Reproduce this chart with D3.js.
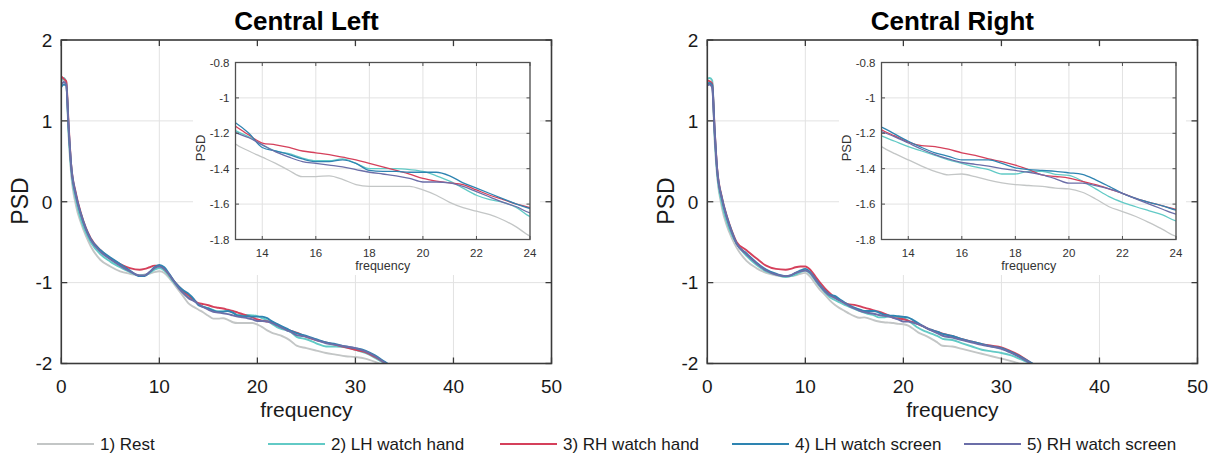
<!DOCTYPE html>
<html>
<head>
<meta charset="utf-8">
<script src="https://cdn.jsdelivr.net/npm/d3@7"></script>
<style>
  html, body { margin: 0; padding: 0; background: #fff; }
  svg { display: block; font-family: "Liberation Sans", Arial, sans-serif; }
</style>
</head>
<body>
<svg id="chart" width="1222" height="459"></svg>
<script>
// Frequency samples (Hz) shared by every series
const freq = [0, 0.25, 0.5, 0.75, 1, 1.5, 2, 2.5, 3, 4, 5, 6, 7, 8,
  8.5, 9, 9.5, 10, 10.5, 11, 11.5, 12, 12.5,
  13, 13.5, 14, 14.5, 15, 15.5, 16, 16.5, 17, 17.5, 18, 18.5, 19, 19.5, 20,
  20.5, 21, 21.5, 22, 22.5, 23, 23.5, 24,
  25, 26, 27, 28, 29, 30, 31, 32, 33, 34];

const conditions = ["1) Rest", "2) LH watch hand", "3) RH watch hand", "4) LH watch screen", "5) RH watch screen"];
const colors = ["#c3c6c6", "#62cac6", "#d5405b", "#2e84b1", "#6b6ea8"];

// Central Left PSD per condition
const leftRest = [1.52, 1.50, 1.46, 0.80, 0.35, -0.05, -0.26, -0.42, -0.55,
  -0.72, -0.80, -0.86, -0.89, -0.91,
  -0.90, -0.89, -0.87, -0.86, -0.88, -0.94, -1.02, -1.10, -1.18,
  -1.26, -1.30, -1.335, -1.37, -1.41, -1.445, -1.445, -1.44, -1.46, -1.49, -1.50, -1.50, -1.50, -1.50, -1.52,
  -1.55, -1.59, -1.62, -1.64, -1.66, -1.69, -1.73, -1.78,
  -1.81, -1.84, -1.87, -1.89, -1.91, -1.92, -1.94, -1.98, -2.03, -2.08];
const leftLHHand = [1.50, 1.53, 1.48, 0.85, 0.40, 0.02, -0.22, -0.38, -0.50,
  -0.65, -0.74, -0.81, -0.87, -0.91,
  -0.91, -0.88, -0.84, -0.82, -0.85, -0.92, -1.00, -1.07, -1.13,
  -1.185, -1.22, -1.265, -1.30, -1.315, -1.34, -1.355, -1.355, -1.345, -1.37, -1.40, -1.40, -1.40, -1.405, -1.415,
  -1.44, -1.47, -1.51, -1.55, -1.575, -1.59, -1.62, -1.67,
  -1.70, -1.75, -1.79, -1.79, -1.80, -1.83, -1.87, -1.93, -2.00, -2.07];
const leftRHHand = [1.55, 1.52, 1.49, 0.95, 0.47, 0.10, -0.14, -0.32, -0.45,
  -0.60, -0.70, -0.77, -0.82, -0.84,
  -0.83, -0.81, -0.79, -0.79, -0.83, -0.90, -0.98, -1.05, -1.11,
  -1.16, -1.21, -1.255, -1.265, -1.28, -1.30, -1.31, -1.32, -1.335, -1.35, -1.37, -1.39, -1.41, -1.43, -1.455,
  -1.47, -1.48, -1.49, -1.52, -1.55, -1.575, -1.60, -1.62,
  -1.67, -1.71, -1.74, -1.77, -1.80, -1.83, -1.86, -1.92, -1.99, -2.06];
const leftLHScreen = [1.42, 1.45, 1.44, 0.90, 0.46, 0.08, -0.15, -0.33, -0.46,
  -0.60, -0.69, -0.77, -0.85, -0.92,
  -0.92, -0.87, -0.81, -0.78, -0.81, -0.89, -0.98, -1.05, -1.10,
  -1.14, -1.20, -1.28, -1.30, -1.32, -1.345, -1.36, -1.36, -1.35, -1.37, -1.41, -1.415, -1.415, -1.42, -1.42,
  -1.42, -1.44, -1.48, -1.51, -1.54, -1.57, -1.60, -1.625,
  -1.66, -1.70, -1.74, -1.76, -1.79, -1.81, -1.84, -1.90, -1.98, -2.06];
const leftRHScreen = [1.45, 1.48, 1.45, 0.92, 0.45, 0.07, -0.16, -0.34, -0.47,
  -0.62, -0.71, -0.79, -0.86, -0.91,
  -0.91, -0.87, -0.82, -0.80, -0.83, -0.90, -0.99, -1.07, -1.14,
  -1.195, -1.225, -1.265, -1.305, -1.335, -1.36, -1.37, -1.38, -1.39, -1.405, -1.42, -1.43, -1.44, -1.455, -1.475,
  -1.475, -1.48, -1.50, -1.53, -1.56, -1.59, -1.615, -1.65,
  -1.67, -1.71, -1.75, -1.77, -1.79, -1.81, -1.85, -1.91, -1.99, -2.06];

// Central Right PSD per condition
const rightRest = [1.48, 1.46, 1.42, 0.75, 0.32, -0.08, -0.30, -0.45, -0.57,
  -0.73, -0.82, -0.88, -0.91, -0.93,
  -0.92, -0.91, -0.89, -0.88, -0.93, -1.01, -1.09, -1.15, -1.22,
  -1.275, -1.315, -1.35, -1.385, -1.415, -1.435, -1.43, -1.445, -1.465, -1.48, -1.49, -1.495, -1.50, -1.51, -1.514,
  -1.533, -1.571, -1.615, -1.642, -1.67, -1.705, -1.743, -1.781,
  -1.79, -1.82, -1.85, -1.88, -1.91, -1.94, -1.97, -2.01, -2.05, -2.09];
const rightLHHand = [1.52, 1.53, 1.50, 0.82, 0.36, -0.03, -0.25, -0.41, -0.52,
  -0.67, -0.78, -0.86, -0.90, -0.93,
  -0.92, -0.90, -0.87, -0.85, -0.89, -0.97, -1.05, -1.12, -1.18,
  -1.215, -1.245, -1.275, -1.30, -1.325, -1.35, -1.37, -1.39, -1.405, -1.43, -1.43, -1.415, -1.415, -1.432, -1.438,
  -1.47, -1.514, -1.558, -1.59, -1.615, -1.638, -1.661, -1.695,
  -1.71, -1.75, -1.79, -1.83, -1.85, -1.87, -1.90, -1.95, -2.00, -2.06];
const rightRHHand = [1.50, 1.49, 1.46, 0.90, 0.42, 0.05, -0.18, -0.36, -0.50,
  -0.60, -0.70, -0.79, -0.83, -0.84,
  -0.83, -0.81, -0.80, -0.80, -0.84, -0.92, -1.00, -1.07, -1.13,
  -1.18, -1.215, -1.25, -1.27, -1.275, -1.29, -1.31, -1.325, -1.345, -1.36, -1.38, -1.405, -1.435, -1.444, -1.453,
  -1.472, -1.49, -1.514, -1.539, -1.568, -1.59, -1.61, -1.63,
  -1.66, -1.70, -1.73, -1.76, -1.78, -1.80, -1.85, -1.91, -1.99, -2.06];
const rightLHScreen = [1.46, 1.47, 1.44, 0.88, 0.40, 0.04, -0.19, -0.37, -0.52,
  -0.64, -0.75, -0.84, -0.89, -0.92,
  -0.91, -0.88, -0.85, -0.83, -0.87, -0.95, -1.03, -1.10, -1.15,
  -1.165, -1.205, -1.245, -1.28, -1.31, -1.33, -1.35, -1.35, -1.35, -1.37, -1.395, -1.405, -1.41, -1.415, -1.423,
  -1.432, -1.463, -1.50, -1.539, -1.568, -1.59, -1.61, -1.634,
  -1.66, -1.70, -1.73, -1.76, -1.79, -1.81, -1.86, -1.92, -1.99, -2.06];
const rightRHScreen = [1.44, 1.45, 1.41, 0.86, 0.40, 0.03, -0.20, -0.38, -0.52,
  -0.65, -0.76, -0.85, -0.90, -0.92,
  -0.91, -0.88, -0.86, -0.85, -0.88, -0.96, -1.04, -1.11, -1.16,
  -1.19, -1.22, -1.255, -1.29, -1.32, -1.345, -1.365, -1.375, -1.385, -1.40, -1.41, -1.42, -1.435, -1.457, -1.482,
  -1.482, -1.495, -1.514, -1.539, -1.571, -1.60, -1.629, -1.657,
  -1.68, -1.71, -1.74, -1.77, -1.79, -1.82, -1.87, -1.93, -2.00, -2.06];

const mainXTicks = [0, 10, 20, 30, 40, 50];
const mainYTicks = [-2, -1, 0, 1, 2];
const insetXTicks = [14, 16, 18, 20, 22, 24];
const insetYTicks = [-1.8, -1.6, -1.4, -1.2, -1, -0.8];

const panels = [
  { title: "Central Left", series: [leftRest, leftLHHand, leftRHHand, leftLHScreen, leftRHScreen], dx: 0 },
  { title: "Central Right", series: [rightRest, rightLHHand, rightRHHand, rightLHScreen, rightRHScreen], dx: 646 }
];

const svg = d3.select("#chart");
const AXIS = "#3a3a3a";
const GRID = "#e2e2e2";

// light grid lines at every tick
function drawGrid(g, x, y, xt, yt) {
  const [xa, xb] = x.range();
  const [ya, yb] = y.range();
  const grid = g.append("g");
  grid.selectAll("line.gx").data(xt).join("line")
    .attr("x1", d => x(d)).attr("x2", d => x(d)).attr("y1", ya).attr("y2", yb)
    .attr("stroke", GRID).attr("stroke-width", 1);
  grid.selectAll("line.gy").data(yt).join("line")
    .attr("x1", xa).attr("x2", xb).attr("y1", d => y(d)).attr("y2", d => y(d))
    .attr("stroke", GRID).attr("stroke-width", 1);
}

// boxed frame with inward ticks on all four sides, plus tick labels
function drawFrame(g, x, y, xt, yt, opt) {
  const [xa, xb] = x.range();
  const [ya, yb] = y.range();
  const fr = g.append("g");
  const tl = opt.tick;
  fr.selectAll("line.tb").data(xt).join("line")
    .attr("x1", d => x(d)).attr("x2", d => x(d)).attr("y1", ya).attr("y2", ya - tl)
    .attr("stroke", opt.color).attr("stroke-width", opt.sw);
  fr.selectAll("line.tt").data(xt).join("line")
    .attr("x1", d => x(d)).attr("x2", d => x(d)).attr("y1", yb).attr("y2", yb + tl)
    .attr("stroke", opt.color).attr("stroke-width", opt.sw);
  fr.selectAll("line.tl").data(yt).join("line")
    .attr("x1", xa).attr("x2", xa + tl).attr("y1", d => y(d)).attr("y2", d => y(d))
    .attr("stroke", opt.color).attr("stroke-width", opt.sw);
  fr.selectAll("line.tr").data(yt).join("line")
    .attr("x1", xb).attr("x2", xb - tl).attr("y1", d => y(d)).attr("y2", d => y(d))
    .attr("stroke", opt.color).attr("stroke-width", opt.sw);
  fr.append("rect").attr("x", xa).attr("y", yb).attr("width", xb - xa).attr("height", ya - yb)
    .attr("fill", "none").attr("stroke", opt.color).attr("stroke-width", opt.frameW);
  fr.selectAll("text.xl").data(xt).join("text")
    .attr("x", d => x(d)).attr("y", ya + opt.xlab)
    .attr("text-anchor", "middle").attr("font-size", opt.fs).attr("fill", opt.textColor)
    .text(d => d);
  fr.selectAll("text.yl").data(yt).join("text")
    .attr("x", xa - opt.ylab).attr("y", d => y(d)).attr("dy", "0.36em")
    .attr("text-anchor", "end").attr("font-size", opt.fs).attr("fill", opt.textColor)
    .text(d => d);
}

function drawLines(g, x, y, series, clipId, sw) {
  const line = d3.line()
    .x((d, i) => x(freq[i]))
    .y(d => y(d))
    .curve(d3.curveMonotoneX);
  const lg = g.append("g").attr("clip-path", `url(#${clipId})`);
  series.forEach((s, k) => {
    lg.append("path").datum(s).attr("d", line)
      .attr("fill", "none").attr("stroke", colors[k]).attr("stroke-width", sw)
      .attr("stroke-linejoin", "round");
  });
}

const defs = svg.append("defs");

panels.forEach((p, pi) => {
  const g = svg.append("g").attr("transform", `translate(${p.dx},0)`);

  // main axes
  const x = d3.scaleLinear().domain([0, 50]).range([61.3, 551.5]);
  const y = d3.scaleLinear().domain([-2, 2]).range([363.5, 40]);
  const clipMain = `clipMain${pi}`;
  defs.append("clipPath").attr("id", clipMain).append("rect")
    .attr("x", 61.3).attr("y", 40).attr("width", 551.5 - 61.3).attr("height", 323.5);

  drawGrid(g, x, y, mainXTicks, mainYTicks);
  drawLines(g, x, y, p.series, clipMain, 1.9);
  drawFrame(g, x, y, mainXTicks, mainYTicks,
    { tick: 6, color: AXIS, sw: 1.3, frameW: 1.6, fs: 19, xlab: 29, ylab: 9, textColor: "#1a1a1a" });

  g.append("text").attr("x", (61.3 + 551.5) / 2).attr("y", 30)
    .attr("text-anchor", "middle").attr("font-size", 26).attr("font-weight", "bold")
    .attr("fill", "#000").text(p.title);
  g.append("text").attr("x", (61.3 + 551.5) / 2).attr("y", 417)
    .attr("text-anchor", "middle").attr("font-size", 21).attr("fill", "#1a1a1a").text("frequency");
  g.append("text").attr("transform", "translate(28,201) rotate(-90)")
    .attr("text-anchor", "middle").attr("font-size", 23).attr("fill", "#1a1a1a").text("PSD");

  // inset zoom on 13–24 Hz
  g.append("rect").attr("x", 193).attr("y", 47).attr("width", 347).attr("height", 228).attr("fill", "#fff");
  const xi = d3.scaleLinear().domain([13, 24]).range([235.5, 530]);
  const yi = d3.scaleLinear().domain([-1.8, -0.8]).range([239.5, 62.5]);
  const clipIn = `clipInset${pi}`;
  defs.append("clipPath").attr("id", clipIn).append("rect")
    .attr("x", 235.5).attr("y", 62.5).attr("width", 530 - 235.5).attr("height", 177);
  drawGrid(g, xi, yi, insetXTicks, insetYTicks);
  drawLines(g, xi, yi, p.series, clipIn, 1.3);
  drawFrame(g, xi, yi, insetXTicks, insetYTicks,
    { tick: 3.5, color: "#505050", sw: 1, frameW: 1.3, fs: 11.5, xlab: 17, ylab: 6, textColor: "#333" });
  g.append("text").attr("x", (235.5 + 530) / 2).attr("y", 270)
    .attr("text-anchor", "middle").attr("font-size", 12.5).attr("fill", "#333").text("frequency");
  g.append("text").attr("transform", "translate(205,148) rotate(-90)")
    .attr("text-anchor", "middle").attr("font-size", 13).attr("fill", "#333").text("PSD");
});

// legend
const legX = [37, 268, 500, 732, 964];
const leg = svg.append("g");
conditions.forEach((c, k) => {
  leg.append("line").attr("x1", legX[k]).attr("x2", legX[k] + 57).attr("y1", 444).attr("y2", 444)
    .attr("stroke", colors[k]).attr("stroke-width", 2);
  leg.append("text").attr("x", legX[k] + 63).attr("y", 444).attr("dy", "0.36em")
    .attr("font-size", 17).attr("fill", "#1a1a1a").text(c);
});
</script>
</body>
</html>
